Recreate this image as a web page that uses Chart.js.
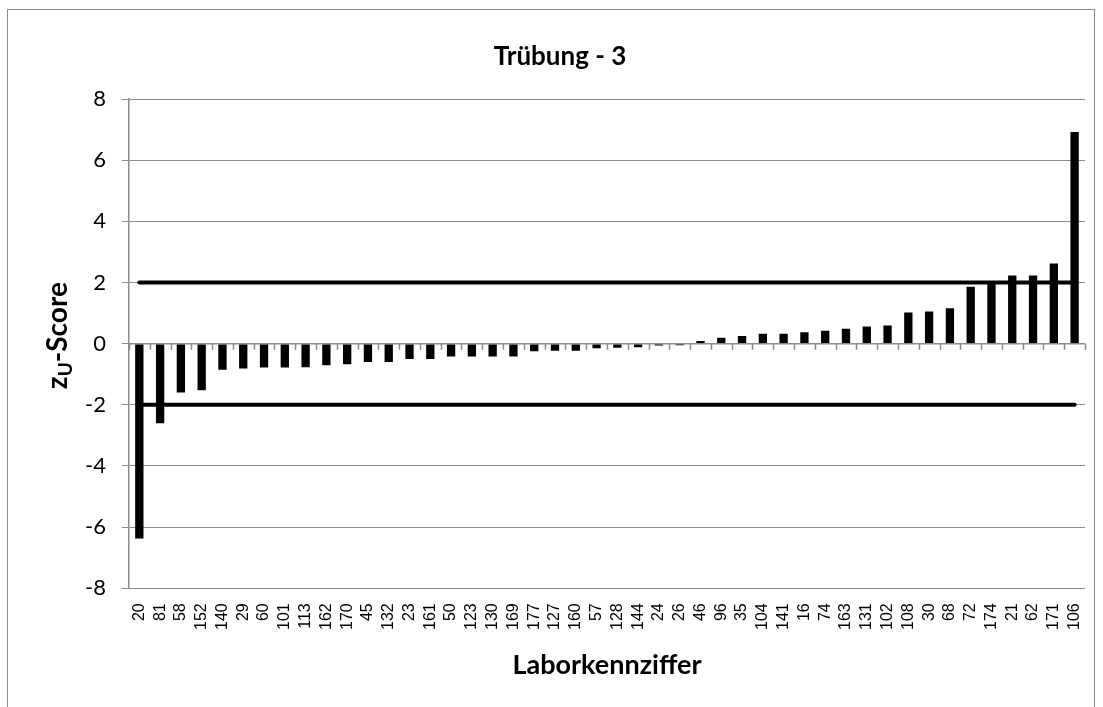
<!DOCTYPE html>
<html>
<head>
<meta charset="utf-8">
<script src="https://cdn.jsdelivr.net/npm/chart.js@4.4.1/dist/chart.umd.min.js"></script>
<style>
  html, body { margin: 0; padding: 0; background: #fff; }
  #wrap { position: relative; width: 1103px; height: 707px; overflow: hidden; }
  #rahmen { position: absolute; left: 7px; top: 9px; width: 1088px; height: 710px; border: 1px solid #8c8c8c; box-sizing: border-box; }
  canvas { position: absolute; left: 0; top: 0; }
</style>
</head>
<body>
<div id="wrap">
  <div id="rahmen"></div>
  <canvas id="myChart" width="1103" height="707"></canvas>
</div>
<script>
'use strict';

// Laborkennziffern (x-Achse)
const labore = ['20','81','58','152','140','29','60','101','113','162','170','45','132','23','161',
  '50','123','130','169','177','127','160','57','128','144','24','26','46','96','35','104',
  '141','16','74','163','131','102','108','30','68','72','174','21','62','171','106'];
// zU-Score je Labor
const zScores = [-6.37,-2.6,-1.6,-1.52,-0.85,-0.81,-0.78,-0.78,-0.77,-0.71,-0.67,-0.6,-0.6,-0.5,-0.5,
  -0.42,-0.42,-0.42,-0.42,-0.25,-0.23,-0.23,-0.15,-0.13,-0.12,-0.06,-0.05,0.09,0.19,0.25,0.32,
  0.32,0.37,0.42,0.49,0.56,0.59,1.02,1.05,1.16,1.86,1.98,2.23,2.23,2.62,6.92];
// Grenzen
const grenzeOben = 2;
const grenzeUnten = -2;
// y-Achse
const yTicks = [-8, -6, -4, -2, 0, 2, 4, 6, 8];

const titel = 'Trübung - 3';
const xTitel = 'Laborkennziffer';

const grau = '#8c8c8c';

// Teilstriche der x-Achse auf der Nulllinie (zwischen den Kategorien)
const nullAchsePlugin = {
  id: 'nullAchse',
  afterDatasetsDraw(chart) {
    const c = chart.ctx;
    const xs = chart.scales.x, ys = chart.scales.y;
    const y0 = ys.getPixelForValue(0);
    c.save();
    c.strokeStyle = grau;
    c.lineWidth = 1.5;
    c.beginPath();
    c.moveTo(xs.left, y0);
    c.lineTo(xs.right, y0);
    for (let i = 0; i <= labore.length; i++) {
      const xp = Math.round(xs.getPixelForValue(i - 0.5)) + 0.5;
      c.moveTo(xp, y0);
      c.lineTo(xp, y0 + 6);
    }
    c.stroke();
    c.restore();
  }
};

// Titel und Achsentitel (mit Index U) selbst zeichnen
const titelPlugin = {
  id: 'titel',
  afterDraw(chart) {
    const c = chart.ctx;
    const a = chart.chartArea;
    c.save();
    c.fillStyle = '#000';
    c.textBaseline = 'middle';
    c.textAlign = 'center';
    c.font = 'bold 26px Lato';
    c.fillText(titel, 560, 57);
    c.font = 'bold 27px Lato';
    c.fillText(xTitel, (a.left + a.right) / 2, 665);

    // y-Titel: z_U-Score
    c.translate(58, (a.top + a.bottom) / 2 - 8);
    c.rotate(-Math.PI / 2);
    c.textAlign = 'left';
    const f1 = 'bold 28px Lato', f2 = 'bold 19px Lato';
    c.font = f1; const w1 = c.measureText('z').width;
    c.font = f2; const w2 = c.measureText('U').width;
    c.font = f1; const w3 = c.measureText('-Score').width;
    let x = -(w1 + w2 + w3) / 2;
    c.font = f1; c.fillText('z', x, 0); x += w1;
    c.font = f2; c.fillText('U', x, 8); x += w2;
    c.font = f1; c.fillText('-Score', x, 0);
    c.restore();
  }
};

const ctx = document.getElementById('myChart').getContext('2d');
const myChart = new Chart(ctx, {
  type: 'bar',
  data: {
    labels: labore,
    datasets: [
      {
        type: 'line',
        data: [{ x: labore[0], y: grenzeOben }, { x: labore[labore.length - 1], y: grenzeOben }],
        borderColor: '#000', borderWidth: 4, borderCapStyle: 'round',
        pointRadius: 0, fill: false, order: 1
      },
      {
        type: 'line',
        data: [{ x: labore[0], y: grenzeUnten }, { x: labore[labore.length - 1], y: grenzeUnten }],
        borderColor: '#000', borderWidth: 4, borderCapStyle: 'round',
        pointRadius: 0, fill: false, order: 1
      },
      {
        data: zScores,
        backgroundColor: '#000',
        borderWidth: 0,
        barPercentage: 0.4,
        categoryPercentage: 1.0,
        order: 2
      }
    ]
  },
  options: {
    responsive: false,
    animation: false,
    layout: { padding: { left: 69, top: 99, right: 18, bottom: 70 } },
    plugins: { legend: { display: false }, tooltip: { enabled: false }, title: { display: false } },
    scales: {
      x: {
        type: 'category',
        position: 'bottom',
        offset: true,
        grid: { display: false },
        border: { display: false },
        ticks: {
          color: '#000',
          font: { family: 'Liberation Sans', size: 16 },
          minRotation: 90, maxRotation: 90,
          autoSkip: false,
          padding: 7
        }
      },
      y: {
        min: -8, max: 8,
        afterBuildTicks(axis) { axis.ticks = yTicks.map(v => ({ value: v })); },
        grid: { color: grau, lineWidth: 1, tickLength: 7 },
        border: { display: true, color: grau, width: 1.5 },
        ticks: {
          color: '#000',
          font: { family: 'Lato', size: 22 },
          padding: 16
        }
      }
    }
  },
  plugins: [nullAchsePlugin, titelPlugin]
});
</script>
</body>
</html>
